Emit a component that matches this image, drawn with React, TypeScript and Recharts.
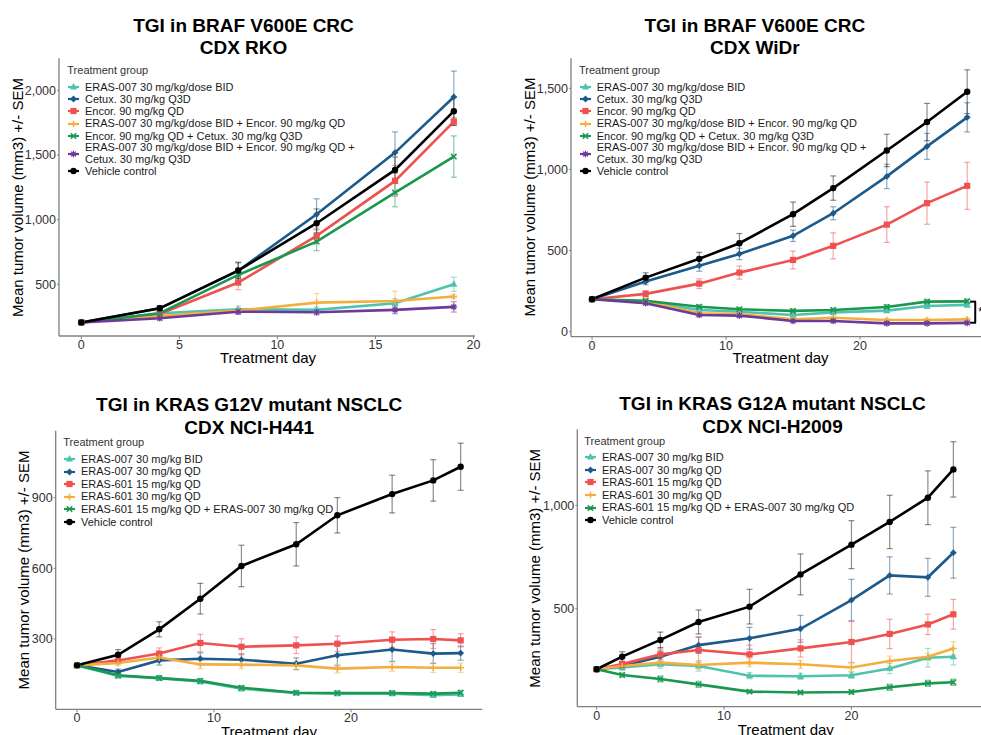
import React from "react";
import { LineChart, Line, XAxis, YAxis, ErrorBar, Legend, ReferenceLine } from "recharts";

const FONT = '"Liberation Sans", Arial, Helvetica, sans-serif';

const TEAL = "#4FC3AE";
const BLUE = "#1C5A8C";
const RED = "#EE5150";
const ORANGE = "#F4AE3D";
const GREEN = "#1A9850";
const PURPLE = "#6D3A9A";
const BLACK = "#000000";

// ---- BRAF V600E CRC, CDX RKO ----
const rkoDays = [0, 4, 8, 12, 16, 19];
const rkoEras = [205, 275, 307, 302, 353, 500];
const rkoErasSem = [10, 12, 25, 20, 35, 55];
const rkoCetux = [205, 314, 605, 1041, 1518, 1948];
const rkoCetuxSem = [10, 20, 60, 120, 160, 200];
const rkoEncor = [205, 270, 513, 874, 1299, 1758];
const rkoEncorSem = [10, 15, 55, 60, 120, 30];
const rkoErasEncor = [205, 255, 296, 358, 371, 405];
const rkoErasEncorSem = [10, 12, 20, 70, 75, 15];
const rkoEncorCetux = [205, 276, 572, 830, 1209, 1487];
const rkoEncorCetuxSem = [10, 15, 50, 70, 110, 160];
const rkoTriple = [205, 237, 288, 284, 302, 325];
const rkoTripleSem = [10, 15, 20, 20, 30, 40];
const rkoVehicle = [205, 314, 606, 972, 1384, 1838];
const rkoVehicleSem = [10, 20, 65, 110, 100, 110];

// ---- BRAF V600E CRC, CDX WiDr ----
const widrDays = [0, 4, 8, 11, 15, 18, 22, 25, 28];
const widrEras = [200, 185, 134, 123, 103, 119, 130, 158, 165];
const widrErasSem = [10, 10, 12, 10, 10, 10, 12, 15, 15];
const widrCetux = [200, 309, 407, 479, 591, 730, 957, 1142, 1321];
const widrCetuxSem = [10, 20, 35, 35, 35, 40, 75, 80, 90];
const widrEncor = [200, 233, 296, 364, 442, 529, 660, 792, 899];
const widrEncorSem = [10, 20, 30, 40, 55, 80, 110, 130, 145];
const widrErasEncor = [200, 185, 113, 109, 76, 86, 72, 72, 76];
const widrErasEncorSem = [8, 10, 10, 10, 10, 10, 10, 10, 10];
const widrEncorCetux = [200, 191, 154, 138, 128, 134, 152, 185, 187];
const widrEncorCetuxSem = [10, 10, 12, 12, 12, 12, 15, 15, 15];
const widrTriple = [200, 175, 103, 99, 66, 66, 51, 51, 54];
const widrTripleSem = [8, 10, 10, 10, 10, 10, 10, 10, 10];
const widrVehicle = [200, 333, 449, 545, 724, 885, 1117, 1292, 1479];
const widrVehicleSem = [10, 30, 40, 60, 75, 75, 100, 115, 135];

// ---- KRAS G12V NSCLC, CDX NCI-H441 ----
const h441Days = [0, 3, 6, 9, 12, 16, 19, 23, 26, 28];
const h441Eras007Bid = [188, 143, 134, 120, 89, 71, 68, 68, 61, 65];
const h441Eras007BidSem = [8, 10, 10, 12, 10, 8, 8, 8, 8, 8];
const h441Eras007Qd = [188, 160, 209, 216, 212, 195, 231, 255, 238, 240];
const h441Eras007QdSem = [8, 12, 20, 25, 25, 25, 45, 50, 42, 30];
const h441Eras601Low = [188, 209, 238, 283, 267, 273, 280, 297, 300, 294];
const h441Eras601LowSem = [8, 15, 24, 37, 34, 35, 33, 33, 40, 28];
const h441Eras601High = [188, 198, 221, 192, 191, 188, 174, 181, 178, 178];
const h441Eras601HighSem = [8, 10, 15, 18, 18, 18, 18, 18, 20, 20];
const h441Combo = [188, 146, 134, 122, 93, 72, 71, 71, 68, 72];
const h441ComboSem = [8, 8, 10, 10, 8, 8, 8, 8, 8, 10];
const h441Vehicle = [188, 233, 341, 471, 610, 702, 825, 915, 973, 1031];
const h441VehicleSem = [8, 22, 32, 65, 88, 92, 75, 80, 88, 100];

// ---- KRAS G12A NSCLC, CDX NCI-H2009 ----
const h2009Days = [0, 2, 5, 8, 12, 16, 20, 23, 26, 28];
const h2009Eras007Bid = [207, 216, 232, 223, 176, 173, 178, 211, 263, 268];
const h2009Eras007BidSem = [10, 15, 20, 25, 15, 15, 15, 25, 45, 40];
const h2009Eras007Qd = [207, 223, 268, 324, 357, 403, 542, 661, 652, 771];
const h2009Eras007QdSem = [10, 15, 32, 40, 53, 65, 100, 90, 92, 123];
const h2009Eras601Low = [207, 232, 279, 300, 279, 308, 339, 378, 424, 473];
const h2009Eras601LowSem = [10, 15, 32, 61, 45, 42, 99, 71, 49, 72];
const h2009Eras601High = [207, 223, 239, 228, 239, 231, 216, 247, 268, 308];
const h2009Eras601HighSem = [10, 12, 15, 20, 20, 20, 20, 24, 16, 32];
const h2009Combo = [207, 179, 160, 134, 99, 95, 97, 120, 139, 144];
const h2009ComboSem = [8, 10, 15, 15, 8, 8, 10, 15, 15, 15];
const h2009Vehicle = [207, 268, 349, 436, 510, 666, 810, 920, 1037, 1174];
const h2009VehicleSem = [10, 24, 38, 58, 84, 99, 116, 129, 130, 134];

const crcGroups = [
  "ERAS-007 30 mg/kg/dose BID",
  "Cetux. 30 mg/kg Q3D",
  "Encor. 90 mg/kg QD",
  "ERAS-007 30 mg/kg/dose BID + Encor. 90 mg/kg QD",
  "Encor. 90 mg/kg QD + Cetux. 30 mg/kg Q3D",
  "ERAS-007 30 mg/kg/dose BID + Encor. 90 mg/kg QD +\nCetux. 30 mg/kg Q3D",
  "Vehicle control",
];
const nsclcGroups = [
  "ERAS-007 30 mg/kg BID",
  "ERAS-007 30 mg/kg QD",
  "ERAS-601 15 mg/kg QD",
  "ERAS-601 30 mg/kg QD",
  "ERAS-601 15 mg/kg QD + ERAS-007 30 mg/kg QD",
  "Vehicle control",
];

const crcLook = [
  { color: TEAL, shape: "triangle" },
  { color: BLUE, shape: "diamond" },
  { color: RED, shape: "square" },
  { color: ORANGE, shape: "plus" },
  { color: GREEN, shape: "cross" },
  { color: PURPLE, shape: "star" },
  { color: BLACK, shape: "circle" },
];
const nsclcLook = [crcLook[0], crcLook[1], crcLook[2], crcLook[3], crcLook[4], crcLook[6]];

const fade = (hex: string, a = 0.5) => {
  const n = parseInt(hex.slice(1), 16);
  return `rgba(${(n >> 16) & 255},${(n >> 8) & 255},${n & 255},${a})`;
};

function Marker({ cx, cy, shape, color }: any) {
  if (cx == null || cy == null) return null;
  const sw = 1.5;
  switch (shape) {
    case "triangle":
      return <polygon points={`${cx},${cy - 4} ${cx - 3.6},${cy + 2.6} ${cx + 3.6},${cy + 2.6}`} fill={color} />;
    case "diamond":
      return <polygon points={`${cx},${cy - 3.4} ${cx + 3.4},${cy} ${cx},${cy + 3.4} ${cx - 3.4},${cy}`} fill={color} />;
    case "square":
      return <rect x={cx - 3.1} y={cy - 3.1} width={6.2} height={6.2} fill={color} />;
    case "plus":
      return <path d={`M${cx - 3.3},${cy}H${cx + 3.3}M${cx},${cy - 3.3}V${cy + 3.3}`} stroke={color} strokeWidth={sw} />;
    case "cross":
      return <path d={`M${cx - 2.7},${cy - 2.7}L${cx + 2.7},${cy + 2.7}M${cx - 2.7},${cy + 2.7}L${cx + 2.7},${cy - 2.7}`} stroke={color} strokeWidth={sw} />;
    case "star":
      return (
        <path
          d={`M${cx - 3.3},${cy}H${cx + 3.3}M${cx},${cy - 3.3}V${cy + 3.3}M${cx - 2.4},${cy - 2.4}L${cx + 2.4},${cy + 2.4}M${cx - 2.4},${cy + 2.4}L${cx + 2.4},${cy - 2.4}`}
          stroke={color}
          strokeWidth={1.2}
        />
      );
    default:
      return <circle cx={cx} cy={cy} r={3.2} fill={color} />;
  }
}

function GroupLegend({ groups, row, gap }: any) {
  return (
    <div style={{ fontFamily: FONT, fontSize: 11, color: "#1a1a1a", whiteSpace: "pre", textAlign: "left" }}>
      <div style={{ height: 12, lineHeight: "12px", marginBottom: gap, color: "#333" }}>Treatment group</div>
      {groups.map((g: any) => (
        <div key={g.name} style={{ display: "flex", alignItems: "center", minHeight: row }}>
          <svg width={14} height={10} style={{ flex: "none", overflow: "visible" }}>
            <line x1={1} x2={12} y1={5} y2={5} stroke={g.color} strokeWidth={2.2} />
            <Marker cx={6.5} cy={5} shape={g.shape} color={g.color} />
          </svg>
          <span style={{ marginLeft: 3.7, lineHeight: g.name.includes("\n") ? "11.5px" : `${row}px` }}>{g.name}</span>
        </div>
      ))}
    </div>
  );
}

const build = (names: string[], look: any[], values: number[][], sems: number[][]) =>
  names.map((name, i) => ({ name, ...look[i], values: values[i], sem: sems[i] }));

const panels = [
  {
    title: ["TGI in BRAF V600E CRC", "CDX RKO"],
    titleX: 243.5, titleTop: 14.6, titleLH: 22.3,
    box: { left: 0, top: 40, width: 490, height: 330 },
    plot: { x0: 59, x1: 475, y0: 58.3, y1: 336 },
    days: rkoDays,
    groups: build(crcGroups, crcLook,
      [rkoEras, rkoCetux, rkoEncor, rkoErasEncor, rkoEncorCetux, rkoTriple, rkoVehicle],
      [rkoErasSem, rkoCetuxSem, rkoEncorSem, rkoErasEncorSem, rkoEncorCetuxSem, rkoTripleSem, rkoVehicleSem]),
    xDomain: [-1.14, 20.08], xTicks: [0, 5, 10, 15, 20],
    yDomain: [100, 2247], yTicks: [500, 1000, 1500, 2000],
    xTitle: { x: 268, y: 363 }, yTitle: { x: 22.5, y: 197.5 },
    legend: { left: 67.3, top: 63.5, row: 12.33, gap: 5 },
  },
  {
    title: ["TGI in BRAF V600E CRC", "CDX WiDr"],
    titleX: 754.8, titleTop: 14.6, titleLH: 22.3,
    box: { left: 510, top: 40, width: 471, height: 330 },
    plot: { x0: 571, x1: 981, y0: 58.3, y1: 336.7 },
    days: widrDays,
    groups: build(crcGroups, crcLook,
      [widrEras, widrCetux, widrEncor, widrErasEncor, widrEncorCetux, widrTriple, widrVehicle],
      [widrErasSem, widrCetuxSem, widrEncorSem, widrErasEncorSem, widrEncorCetuxSem, widrTripleSem, widrVehicleSem]),
    xDomain: [-1.57, 29.03], xTicks: [0, 10, 20],
    yDomain: [-31, 1685], yTicks: [0, 500, 1000, 1500],
    xTitle: { x: 780.5, y: 363 }, yTitle: { x: 534.5, y: 197 },
    legend: { left: 579, top: 63.5, row: 12.33, gap: 5 },
    bracket: true,
  },
  {
    title: ["TGI in KRAS G12V mutant NSCLC", "CDX NCI-H441"],
    titleX: 249.2, titleTop: 393, titleLH: 23.3,
    box: { left: 0, top: 420, width: 490, height: 315 },
    plot: { x0: 55.7, x1: 482.3, y0: 430.7, y1: 709.3 },
    days: h441Days,
    groups: build(nsclcGroups, nsclcLook,
      [h441Eras007Bid, h441Eras007Qd, h441Eras601Low, h441Eras601High, h441Combo, h441Vehicle],
      [h441Eras007BidSem, h441Eras007QdSem, h441Eras601LowSem, h441Eras601HighSem, h441ComboSem, h441VehicleSem]),
    xDomain: [-1.555, 29.58], xTicks: [0, 10, 20],
    yDomain: [1.5, 1184], yTicks: [300, 600, 900],
    xTitle: { x: 269, y: 737 }, yTitle: { x: 28.5, y: 570 },
    legend: { left: 63.3, top: 436.3, row: 12.6, gap: 4.4 },
  },
  {
    title: ["TGI in KRAS G12A mutant NSCLC", "CDX NCI-H2009"],
    titleX: 772.5, titleTop: 391.5, titleLH: 23.3,
    box: { left: 515, top: 420, width: 466, height: 315 },
    plot: { x0: 577.3, x1: 981, y0: 429.3, y1: 706.7 },
    days: h2009Days,
    groups: build(nsclcGroups, nsclcLook,
      [h2009Eras007Bid, h2009Eras007Qd, h2009Eras601Low, h2009Eras601High, h2009Combo, h2009Vehicle],
      [h2009Eras007BidSem, h2009Eras007QdSem, h2009Eras601LowSem, h2009Eras601HighSem, h2009ComboSem, h2009VehicleSem]),
    xDomain: [-1.52, 30.17], xTicks: [0, 10, 20],
    yDomain: [26, 1368], yTicks: [500, 1000],
    xTitle: { x: 785.8, y: 734.5 }, yTitle: { x: 540, y: 568.3 },
    legend: { left: 584.3, top: 434.7, row: 12.6, gap: 4.3 },
  },
];

const AXIS = "#808080";
const tickStyle = { fontSize: 12.5, fill: "#333", fontFamily: FONT };

function Panel({ p }: any) {
  const { box, plot } = p;
  const data = p.days.map((d: number, i: number) => {
    const r: any = { day: d };
    p.groups.forEach((g: any, j: number) => {
      r[`v${j}`] = g.values[i];
      r[`e${j}`] = g.sem[i];
    });
    return r;
  });
  const yW = plot.x0 - box.left;
  const xH = box.top + box.height - plot.y1;
  const ox = box.left;
  const oy = box.top;

  return (
    <div style={{ position: "absolute", left: box.left, top: box.top }}>
      <LineChart
        width={box.width}
        height={box.height}
        data={data}
        margin={{ top: plot.y0 - box.top, right: box.left + box.width - plot.x1, left: 0, bottom: 0 }}
      >
        <XAxis
          dataKey="day"
          type="number"
          domain={p.xDomain}
          ticks={p.xTicks}
          allowDataOverflow
          interval={0}
          height={xH}
          tickSize={3}
          tickMargin={1}
          axisLine={{ stroke: AXIS, strokeWidth: 1.3 }}
          tickLine={{ stroke: AXIS }}
          tick={tickStyle}
          label={() => (
            <text x={p.xTitle.x - ox} y={p.xTitle.y - oy} textAnchor="middle" fontSize={15} fontFamily={FONT} fill="#000">
              Treatment day
            </text>
          )}
        />
        <YAxis
          type="number"
          domain={p.yDomain}
          ticks={p.yTicks}
          allowDataOverflow
          interval={0}
          width={yW}
          tickSize={2}
          tickMargin={1}
          axisLine={{ stroke: AXIS, strokeWidth: 1.3 }}
          tickLine={{ stroke: AXIS }}
          tick={tickStyle}
          tickFormatter={(v: number) => v.toLocaleString("en-US")}
          label={() => (
            <text
              x={p.yTitle.x - ox}
              y={p.yTitle.y - oy}
              transform={`rotate(-90 ${p.yTitle.x - ox} ${p.yTitle.y - oy})`}
              textAnchor="middle"
              fontSize={15}
              fontFamily={FONT}
              fill="#000"
            >
              Mean tumor volume (mm3) +/- SEM
            </text>
          )}
        />
        <Legend
          layout="vertical"
          align="center"
          verticalAlign="middle"
          wrapperStyle={{ left: p.legend.left - ox, top: p.legend.top - oy, width: "auto", height: "auto" }}
          content={() => <GroupLegend groups={p.groups} row={p.legend.row} gap={p.legend.gap} />}
        />
        {p.groups.map((g: any, j: number) => (
          <Line
            key={g.name}
            dataKey={`v${j}`}
            name={g.name}
            type="linear"
            stroke={g.color}
            strokeWidth={2.6}
            activeDot={false}
            isAnimationActive={false}
            dot={(d: any) => <Marker key={`m${j}-${d.index}`} cx={d.cx} cy={d.cy} shape={g.shape} color={g.color} />}
          >
            <ErrorBar dataKey={`e${j}`} direction="y" width={3} stroke={fade(g.color, g.color === BLACK ? 0.45 : 0.5)} strokeWidth={1.2} isAnimationActive={false} />
          </Line>
        ))}
        {p.bracket && (
          <>
            <ReferenceLine segment={[{ x: 28.6, y: 55 }, { x: 28.6, y: 185 }]} stroke="#000" strokeWidth={2}
              label={{ value: "*", position: "right", offset: 3, fontSize: 12, fill: "#000" }} />
            <ReferenceLine segment={[{ x: 28.2, y: 185 }, { x: 28.66, y: 185 }]} stroke="#000" strokeWidth={2} />
            <ReferenceLine segment={[{ x: 28.2, y: 55 }, { x: 28.66, y: 55 }]} stroke="#000" strokeWidth={2} />
          </>
        )}
      </LineChart>
    </div>
  );
}

export default function App() {
  return (
    <div style={{ position: "fixed", left: 0, top: 0, width: 981, height: 735, overflow: "hidden", background: "#fff", fontFamily: FONT }}>
      {panels.map((p) => (
        <Panel key={p.title[1]} p={p} />
      ))}
      {panels.map((p) => (
        <div
          key={`t-${p.title[1]}`}
          style={{
            position: "absolute",
            left: p.titleX - 200,
            width: 400,
            top: p.titleTop,
            textAlign: "center",
            fontWeight: "bold",
            fontSize: 19,
            lineHeight: `${p.titleLH}px`,
            color: "#000",
            pointerEvents: "none",
          }}
        >
          {p.title[0]}
          <br />
          {p.title[1]}
        </div>
      ))}
    </div>
  );
}
